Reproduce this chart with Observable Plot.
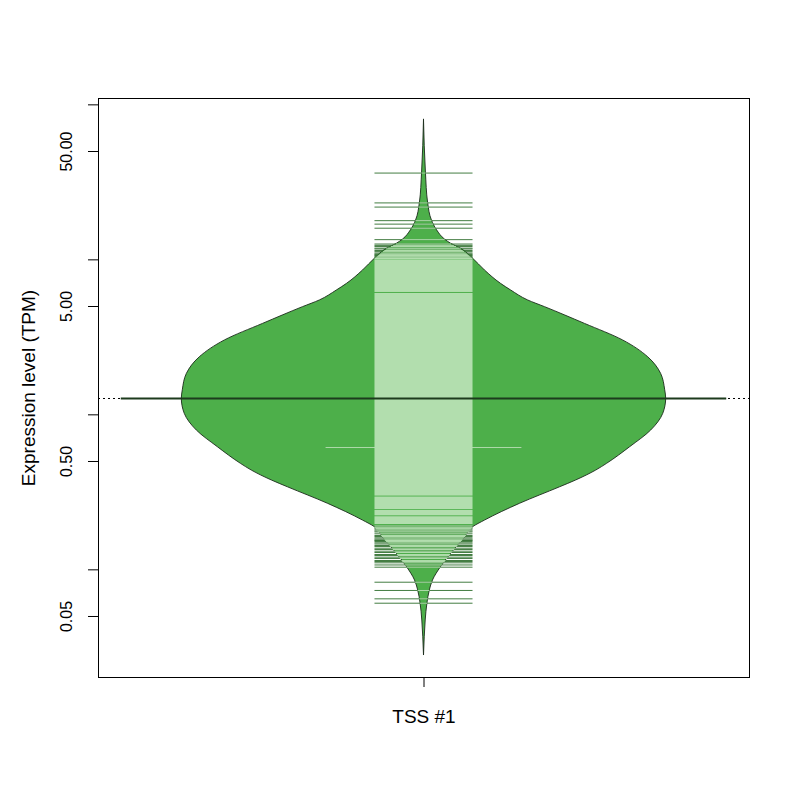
<!DOCTYPE html>
<html><head><meta charset="utf-8">
<script src="https://cdn.jsdelivr.net/npm/d3@7"></script>
<script src="https://cdn.jsdelivr.net/npm/@observablehq/plot@0.6"></script>
<style>body{margin:0;background:#fff}</style>
</head><body><div id="chart"></div>
<script>
// ---- data ----
const beanNames = ["TSS #1"];
const yLabel = "Expression level (TPM)";
const yTicks = [0.05, 0.1, 0.5, 1, 5, 10, 50, 100];
const yTickLabels = [0.05, 0.5, 5, 50];
// bean outline (density estimate) : TPM value and relative density
const outlineTPM = [80.1, 36.4, 23.3, 17.9, 15.5, 13.5, 12.7, 11.8, 10.2, 8.53, 7.00, 6.34, 5.47, 4.95, 3.86, 3.02, 2.35, 1.84, 1.44, 1.27, 1.016, 0.792, 0.618, 0.483, 0.437, 0.377, 0.341, 0.267, 0.208, 0.188, 0.162, 0.127, 0.104, 0.0853, 0.0736, 0.0604, 0.0471, 0.0367, 0.0280];
const outlineDensity = [0, 0.008, 0.017, 0.033, 0.054, 0.087, 0.112, 0.153, 0.202, 0.252, 0.318, 0.36, 0.43, 0.50, 0.665, 0.822, 0.926, 0.979, 0.996, 1.0, 0.988, 0.938, 0.851, 0.756, 0.711, 0.628, 0.562, 0.397, 0.252, 0.202, 0.169, 0.112, 0.070, 0.037, 0.024, 0.014, 0.007, 0.003, 0];
// individual observations (beanlines) in the sparse tails
const obsTop = [36.3, 23.3, 21.9, 17.9, 17.0, 16.0, 13.5, 12.65, 12.4, 12.2, 11.9, 11.75, 11.49, 11.3, 11.07, 10.91, 10.8, 10.67, 10.55, 10.43, 10.3, 10.2];
const obsBottom = [0.192, 0.188, 0.185, 0.1813, 0.1781, 0.1755, 0.1708, 0.1666, 0.1641, 0.1609, 0.1581, 0.1558, 0.1546, 0.1524, 0.1494, 0.1468, 0.1436, 0.1415, 0.1379, 0.1353, 0.1319, 0.1294, 0.1256, 0.1238, 0.1207, 0.1184, 0.1149, 0.1132, 0.1110, 0.1075, 0.1040, 0.0832, 0.0736, 0.0650, 0.0609];
// densely packed observations (solid bands), upper and lower TPM
const denseHigh = [10.0, 6.07, 0.295, 0.242, 0.220];
const denseLow  = [6.16, 0.299, 0.245, 0.223, 0.196];
// tied observations: value and count
const tieValues = [0.616];
const tieCounts = [2];
const beanAverage = 1.275;

// ---- styling constants ----
const W = 0.372;   // half width of bean at max density (x units)
const LL = 0.0753; // half length of one beanline
const AVG = 0.465; // half length of bean average line
const green = "#4daf4a", light = "#b2deae", dark = "#2f6f2e", ink = "#1d3b1d";

const outline = outlineTPM.map((v, i) => ({v, d: outlineDensity[i]}));
function polyHW(v) {
  const lv = Math.log10(v);
  for (let i = 0; i < outlineTPM.length - 1; i++) {
    const a = Math.log10(outlineTPM[i]), b = Math.log10(outlineTPM[i + 1]);
    if (lv <= a && lv >= b) {
      const t = (a - lv) / (a - b);
      return W * (outlineDensity[i] + t * (outlineDensity[i + 1] - outlineDensity[i]));
    }
  }
  return 0;
}
const lines = [
  ...obsTop.map(v => ({v, n: 1})),
  ...obsBottom.map(v => ({v, n: 1})),
  ...tieValues.map((v, i) => ({v, n: tieCounts[i]}))
];
const dense = denseHigh.map((h, i) => ({hi: h, lo: denseLow[i]}));

const chart = Plot.plot({
  width: 800, height: 800,
  marginLeft: 98, marginRight: 51, marginTop: 98, marginBottom: 123,
  style: {fontFamily: "'Liberation Sans', Arial, sans-serif", fontSize: "16px", color: "black", background: "white"},
  x: {domain: [0.5, 1.5], axis: null},
  y: {type: "log", domain: [0.0202, 109.9], axis: null},
  marks: [
    Plot.ruleY([beanAverage], {stroke: "black", strokeWidth: 1, strokeDasharray: "2,3"}),
    Plot.areaX(outline, {y: "v", x1: d => 1 - W * d.d, x2: d => 1 + W * d.d, fill: green, stroke: "#1a2a1a", strokeWidth: 0.9, curve: "monotone-y"}),
    Plot.ruleY(lines, {y: "v", x1: d => 1 - LL * d.n, x2: d => 1 + LL * d.n, stroke: dark, strokeWidth: 1, strokeOpacity: 0.9}),
    Plot.rect(dense, {x1: 1 - LL, x2: 1 + LL, y1: "lo", y2: "hi", fill: light}),
    Plot.ruleY(lines, {y: "v", x1: d => 1 - Math.min(LL * d.n, polyHW(d.v)), x2: d => 1 + Math.min(LL * d.n, polyHW(d.v)), stroke: light, strokeWidth: 1}),
    Plot.ruleY([beanAverage], {x1: 1 - AVG, x2: 1 + AVG, stroke: ink, strokeWidth: 2.2}),
    Plot.frame({stroke: "black", strokeWidth: 1}),
    Plot.axisY({ticks: yTicks, tickSize: 10, tickFormat: () => "", label: null, anchor: "left"}),
    Plot.text(yTickLabels, {y: d => d, frameAnchor: "left", dx: -32, rotate: -90, text: d => d.toFixed(2), fontSize: 16, textAnchor: "middle", lineAnchor: "middle"}),
    Plot.text([yLabel], {frameAnchor: "left", dx: -70, rotate: -90, fontSize: 19, textAnchor: "middle", lineAnchor: "middle"}),
    Plot.axisX({ticks: [1], tickSize: 10, tickFormat: () => "", label: null, anchor: "bottom"}),
    Plot.text(beanNames, {x: (d, i) => i + 1, frameAnchor: "bottom", dy: 39, fontSize: 19, lineAnchor: "middle"})
  ]
});
document.getElementById("chart").appendChild(chart);
</script>
</body></html>
